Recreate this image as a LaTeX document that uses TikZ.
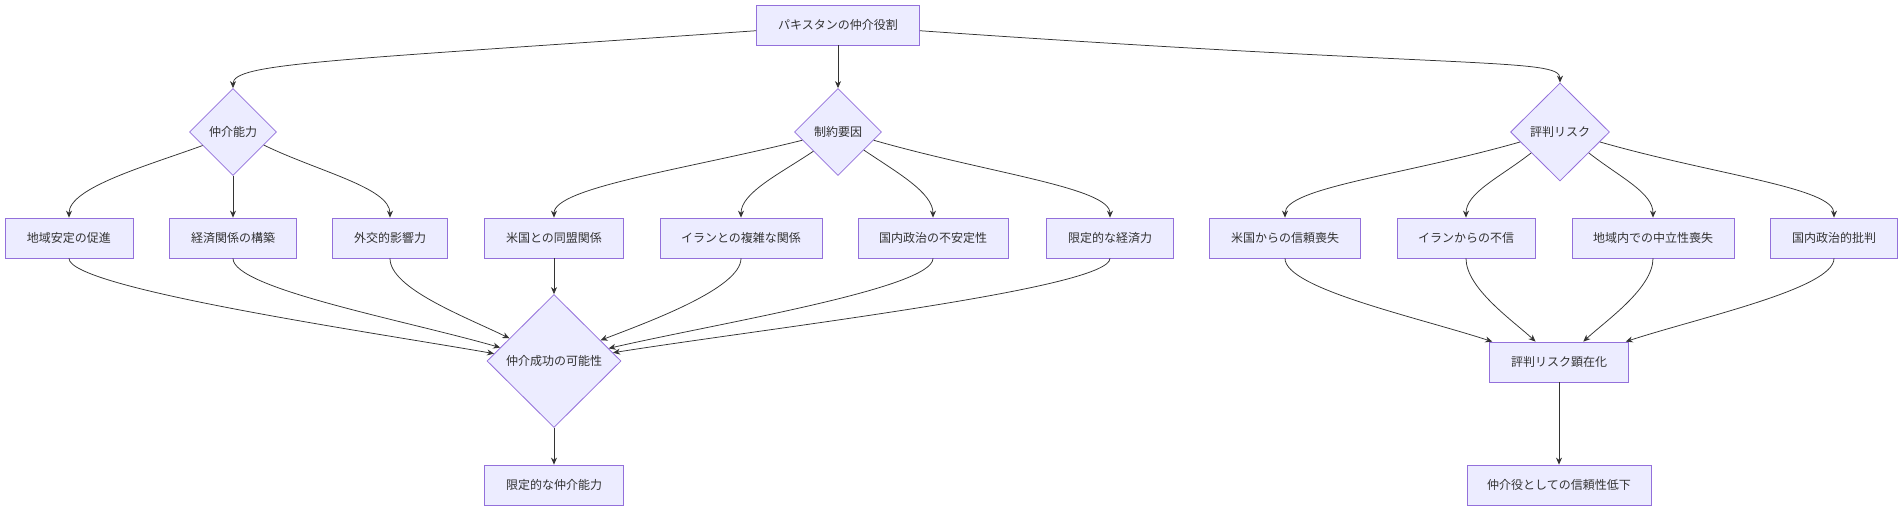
\documentclass[tikz,border=0pt]{standalone}
\usepackage{fontspec}
\setmainfont{Noto Sans CJK JP}
\usetikzlibrary{shapes.geometric,arrows.meta}
\definecolor{nodefill}{HTML}{ECECFF}
\definecolor{nodeline}{HTML}{9370DB}
\definecolor{edgecol}{HTML}{333333}
\tikzset{
  box/.style={draw=nodeline, fill=nodefill, line width=0.8pt, rectangle, minimum height=40pt, inner sep=0pt, font=\fontsize{12}{14}\selectfont, text=edgecol},
  dia/.style={draw=nodeline, fill=nodefill, line width=0.8pt, diamond, aspect=1, inner sep=0pt, font=\fontsize{12}{14}\selectfont, text=edgecol},
  conn/.style={draw=edgecol, line width=0.75pt, -{Stealth[length=7pt,width=6pt]}}
}
\begin{document}
\begin{tikzpicture}[x=1pt,y=1pt]
\path[use as bounding box, fill=white] (0,0) rectangle (1904,-511);
% top
\node[box, minimum width=163pt] (top) at (838,-25) {パキスタンの仲介役割};
% diamonds
\node[dia, minimum width=87pt, minimum height=87pt] (cap) at (233,-132) {仲介能力};
\node[dia, minimum width=87pt, minimum height=87pt] (con) at (838,-132) {制約要因};
\node[dia, minimum width=99pt, minimum height=98pt] (rep) at (1560,-132) {評判リスク};
% row
\node[box, minimum width=128pt] (a1) at (69,-238) {地域安定の促進};
\node[box, minimum width=127pt] (a2) at (233,-238) {経済関係の構築};
\node[box, minimum width=115pt] (a3) at (390,-238) {外交的影響力};
\node[box, minimum width=139pt] (b1) at (554,-238) {米国との同盟関係};
\node[box, minimum width=162pt] (b2) at (741,-238) {イランとの複雑な関係};
\node[box, minimum width=150pt] (b3) at (933,-238) {国内政治の不安定性};
\node[box, minimum width=127pt] (b4) at (1110,-238) {限定的な経済力};
\node[box, minimum width=151pt] (c1) at (1285,-238) {米国からの信頼喪失};
\node[box, minimum width=138pt] (c2) at (1466,-238) {イランからの不信};
\node[box, minimum width=162pt] (c3) at (1653,-238) {地域内での中立性喪失};
\node[box, minimum width=127pt] (c4) at (1834,-238) {国内政治的批判};
% lower
\node[dia, minimum width=134pt, minimum height=133pt] (succ) at (554,-361) {仲介成功の可能性};
\node[box, minimum width=139pt] (lim) at (554,-485) {限定的な仲介能力};
\node[box, minimum width=139pt] (risk) at (1559,-362) {評判リスク顕在化};
\node[box, minimum width=184pt] (low) at (1559,-485) {仲介役としての信頼性低下};
% edges from top
\draw[conn] (top.184) to[out=184, in=90, out distance=430pt, in distance=25pt] (cap.north);
\draw[conn] (top.south) -- (con.north);
\draw[conn] (top.356) to[out=-4, in=90, out distance=550pt, in distance=25pt] (rep.north);
% diamond -> children
\draw[conn] (cap.204) to[out=200, in=90, out distance=60pt, in distance=30pt] (a1.north);
\draw[conn] (cap.south) -- (a2.north);
\draw[conn] (cap.337) to[out=-26, in=90, out distance=60pt, in distance=30pt] (a3.north);
\draw[conn] (con.193) to[out=194, in=90, out distance=120pt, in distance=30pt] (b1.north);
\draw[conn] (con.218) to[out=214, in=90, out distance=40pt, in distance=25pt] (b2.north);
\draw[conn] (con.325) to[out=-34, in=90, out distance=40pt, in distance=25pt] (b3.north);
\draw[conn] (con.347) to[out=-16, in=90, out distance=120pt, in distance=30pt] (b4.north);
\draw[conn] (rep.194) to[out=196, in=90, out distance=120pt, in distance=30pt] (c1.north);
\draw[conn] (rep.216) to[out=218, in=90, out distance=40pt, in distance=25pt] (c2.north);
\draw[conn] (rep.324) to[out=-38, in=90, out distance=40pt, in distance=25pt] (c3.north);
\draw[conn] (rep.346) to[out=-16, in=90, out distance=120pt, in distance=30pt] (c4.north);
% children -> success
\draw[conn] (a1.south) to[out=-90, in=170, out distance=30pt, in distance=120pt] (succ.173);
\draw[conn] (a2.south) to[out=-90, in=164, out distance=30pt, in distance=100pt] (succ.166);
\draw[conn] (a3.south) to[out=-90, in=154, out distance=30pt, in distance=50pt] (succ.153);
\draw[conn] (b1.south) -- (succ.north);
\draw[conn] (b2.south) to[out=-90, in=21, out distance=30pt, in distance=50pt] (succ.24);
\draw[conn] (b3.south) to[out=-90, in=13, out distance=30pt, in distance=110pt] (succ.13);
\draw[conn] (b4.south) to[out=-90, in=9, out distance=30pt, in distance=160pt] (succ.8);
% children -> risk
\draw[conn] (c1.south) to[out=-90, in=162, out distance=30pt, in distance=80pt] (risk.163);
\draw[conn] (c2.south) to[out=-90, in=137, out distance=30pt, in distance=30pt] (risk.139);
\draw[conn] (c3.south) to[out=-90, in=43, out distance=30pt, in distance=30pt] (risk.40);
\draw[conn] (c4.south) to[out=-90, in=18, out distance=30pt, in distance=80pt] (risk.17);
% final
\draw[conn] (succ.south) -- (lim.north);
\draw[conn] (risk.south) -- (low.north);
\end{tikzpicture}
\end{document}
